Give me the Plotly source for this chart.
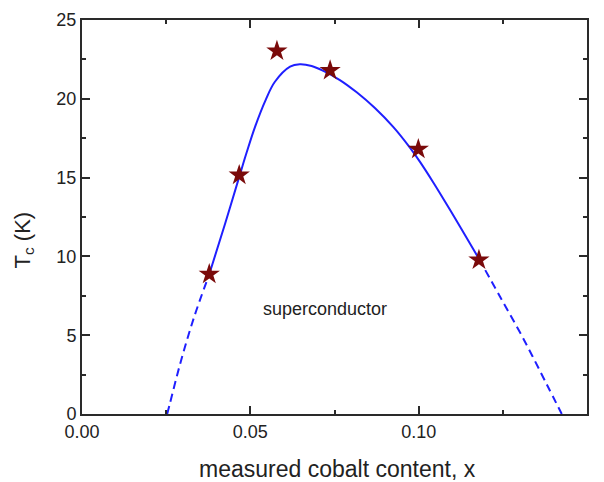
import plotly.graph_objects as go

# Measured Tc versus cobalt content
x_meas = [0.0378, 0.0467, 0.0579, 0.0737, 0.0999, 0.1179]
tc_meas = [8.87, 15.16, 23.04, 21.8, 16.8, 9.78]

# Guide-to-the-eye curve through the superconducting dome
x_fit = [0.0378, 0.0425, 0.0469, 0.0489, 0.0514, 0.0546, 0.0573,
         0.0618, 0.0647, 0.0682, 0.0717, 0.0766, 0.0816, 0.0870,
         0.0925, 0.0974, 0.1004, 0.1043, 0.1093, 0.1179]
tc_fit = [8.87, 12.07, 15.19, 16.59, 18.22, 19.95, 21.08,
          22.04, 22.19, 22.08, 21.77, 21.19, 20.41, 19.41,
          18.2, 16.9, 16.0, 14.71, 12.96, 9.85]

# Extrapolations down to Tc = 0
x_ext_lo = [0.0253, 0.0261, 0.0291, 0.0331, 0.0378]
tc_ext_lo = [0.0, 0.66, 3.14, 6.02, 8.87]
x_ext_hi = [0.1179, 0.1241, 0.1311, 0.1380, 0.1425]
tc_ext_hi = [9.85, 7.47, 4.78, 1.9, 0.0]

x_ticks = [0.00, 0.05, 0.10, 0.15]
x_tick_text = ["0.00", "0.05", "0.10", "0.15"]
y_ticks = [0, 5, 10, 15, 20, 25]

FONT = "Arial, Liberation Sans, sans-serif"
LINE_BLUE = "#1f1fff"

fig = go.Figure()

for xs, ys in [(x_ext_lo, tc_ext_lo), (x_ext_hi, tc_ext_hi)]:
    fig.add_trace(go.Scatter(
        x=xs, y=ys, mode="lines", line_shape="spline",
        line=dict(color=LINE_BLUE, width=2, dash="8px,5px"),
        showlegend=False, hoverinfo="skip"))

fig.add_trace(go.Scatter(
    x=x_fit, y=tc_fit, mode="lines", line_shape="spline",
    line=dict(color=LINE_BLUE, width=2, smoothing=1.0),
    showlegend=False, hoverinfo="skip"))

fig.add_trace(go.Scatter(
    x=x_meas, y=tc_meas, mode="markers",
    marker=dict(symbol="star", size=16, color="#7a0a0a",
                line=dict(width=0)),
    showlegend=False))

axis_common = dict(
    showgrid=False, zeroline=False,
    showline=True, linewidth=2, linecolor="#2a2a2a", mirror="allticks",
    ticks="inside", ticklen=8, tickwidth=1.5, tickcolor="#2a2a2a",
    tickfont=dict(family=FONT, size=18, color="#222222"),
)

fig.update_xaxes(
    range=[0, 0.15], tickvals=x_ticks, ticktext=x_tick_text,
    minor=dict(dtick=0.025, ticks="inside", ticklen=4, tickwidth=1.5,
               tickcolor="#2a2a2a", showgrid=False),
    **axis_common)
fig.update_yaxes(
    range=[0, 25], tickvals=y_ticks,
    minor=dict(dtick=2.5, ticks="inside", ticklen=4, tickwidth=1.5,
               tickcolor="#2a2a2a", showgrid=False),
    **axis_common)

fig.add_annotation(
    x=0.0722, y=6.64, xref="x", yref="y", text="superconductor",
    showarrow=False, font=dict(family=FONT, size=18, color="#222222"))

fig.add_annotation(
    x=0.505, y=-0.1386, xref="paper", yref="paper",
    text="measured cobalt content, x", showarrow=False,
    xanchor="center", yanchor="middle",
    font=dict(family=FONT, size=23, color="#222222"))

fig.add_annotation(
    x=-0.1149, y=0.443, xref="paper", yref="paper",
    text="T<sub>c</sub> (K)", showarrow=False, textangle=-90,
    xanchor="center", yanchor="middle",
    font=dict(family=FONT, size=22, color="#222222"))

fig.update_layout(
    width=604, height=482,
    margin=dict(l=82, r=17, t=10, b=68),
    paper_bgcolor="white", plot_bgcolor="white",
)

fig.write_html("out.html")
